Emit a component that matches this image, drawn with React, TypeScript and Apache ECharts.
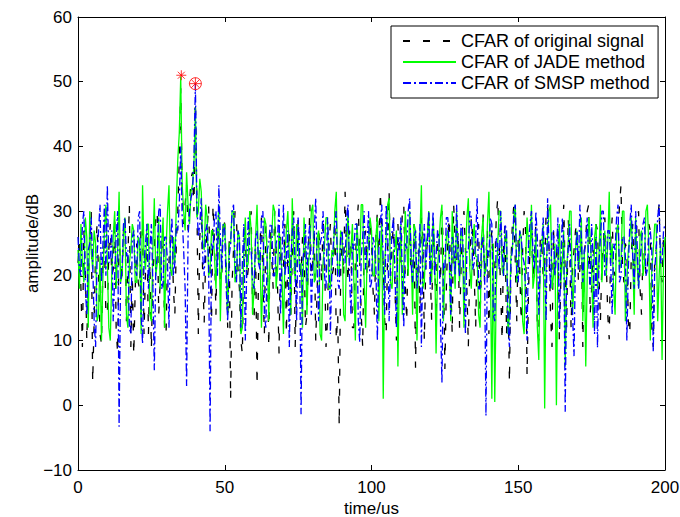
import React, { useEffect, useRef } from "react";
import * as echarts from "echarts";

// sampling step of the CFAR output, in microseconds (time axis 0..200 us)
const STEP_US = 0.5;

const originalCfar: number[] = [
  22, 25, 18, 9, 27, 21, 10, 19, 25, 30, 3.5, 13, 24, 28, 20, 11, 9.5, 22, 26, 14,
  14, 24, 28, 20, 21, 29, 12, 8, 26, 22, 19, 27, 29, 13, 23, 31, 9, 20, 7.7, 18,
  25, 19, 18, 28, 28, 11, 21, 26, 11, 22, 8.7, 20, 24, 29, 30, 14, 19, 24, 26, 12,
  10.8, 23, 22, 27, 27, 18, 14, 25, 30, 38, 49, 33, 28, 31, 34, 27, 31, 35, 36, 30,
  47, 32, 11, 26, 30, 20, 12.8, 23, 27, 31, 21, 13, 31, 25, 14, 28, 25, 19, 20, 29,
  28, 22, 12, 26, 0.9, 19, 24, 30, 29, 21, 18, 10, 7.9, 24, 26, 19, 21, 28, 30, 14,
  13, 25, 3, 20, 25, 29, 19, 11, 28, 23, 9, 27, 23, 18, 30, 24, 18, 8, 26, 21,
  21, 28, 11, 24, 27, 14, 23, 30, 9, 19, 29, 22, 20, 26, 25, 12, 14, 23, 31, 20,
  22, 27, 10, 18, 27, 24, 19, 29, 24, 9, 13, 25, 28, 20, 21, 30, 10, 14, -3.2, 21,
  26, 20, 33, 24, 19, 27, 24, 12, 12, 22, 28, 31, 22, 14, 9, 25, 27, 20, 20, 29,
  25, 18, 14, 26, 30, 22, 33, 27, 21, 13, 11, 24, 33, 20, 24, 29, 18, 10, 28, 23,
  22, 30, 31, 19, 13, 25, 26, 20, 19, 28, 5.8, 21, 24, 14, 29, 26, 10, 22, 25, 30,
  21, 13, 28, 23, 14, 27, 23, 19, 30, 24, 5.6, 18, 26, 29, 19, 11, 31, 25, 22, 27,
  12, 21, 27, 30, 24, 18, 9, 23, 29, 26, 20, 12, 25, 28, 14, 22, 30, 19, 23, 27,
  11, 24, 27, 20, 21, 29, 32, 25, 18, 10, 25, 28, 11, 19, 3.5, 22, 28, 31, 22, 13,
  26, 21, 13, 24, 30, 27, 4.6, 18, 24, 29, 19, 23, 28, 12, 10, 26, 25, 20, 21, 30,
  31, 24, 14, 9, 27, 22, 22, 28, 10, 19, 26, 31, 20, 12, 29, 25, 12, 21, 24, 27,
  28, 19, 21, 26, 9, 23, 26, 30, 31, 14, 18, 24, 23, 28, 27, 20, 13, 22, 25, 29,
  22, 14, 10.2, 25, 29, 21, 20, 27, 26, 31, 34, 22, 19, 25, 24, 13, 11, 23, 28, 20,
  23, 29, 30, 18, 14, 24, 25, 20, 21, 28, 27, 12, 9, 23, 24, 29, 31, 21, 19, 26,
  25,
];

const jadeCfar: number[] = [
  24, 18, 28, 22, 19, 29, 26, 12, 30, 24, 21, 27, 25, 13, 14, 23, 10, 20, 27, 31,
  22, 12, 10, 20, 26, 30, 18, 24, 33, 19, 20, 26, 29, 14, 12, 22, 24, 28, 27, 19,
  19, 26, 25, 11, 34, 23, 21, 28, 28, 14, 13, 24, 32, 20, 22, 29, 18, 25, 29, 12,
  24, 30, 34, 21, 20, 26, 22, 31, 38, 42, 50.8, 34, 30, 27, 36, 31, 28, 33, 34, 37,
  46, 29, 30, 35, 33, 25, 24, 31, 29, 20, 21, 27, 27, 23, 18, 26, 31, 13, 23, 28,
  28, 21, 14, 25, 25, 30, 30, 19, 20, 27, 26, 11, 12, 24, 29, 21, 22, 30, 27, 14,
  18, 26, 31, 22, 24, 12, 20, 29, 28, 23, 13, 25, 26, 31, 30, 18, 21, 27, 25, 20,
  11, 23, 27, 30, 23, 14, 32, 24, 19, 28, 26, 21, 22, 12, 29, 25, 14, 22, 24, 30,
  31, 19, 20, 26, 27, 11, 10, 22, 25, 29, 29, 18, 18, 24, 23, 30, 33, 20, 21, 27,
  26, 14, 13, 24, 30, 22, 24, 28, 19, 10, 28, 25, 22, 31, 31, 19, 12, 23, 25, 29,
  27, 20, 20, 26, 29, 13, 23, 28, 1, 22, 26, 31, 32, 19, 18, 24, 24, 27, 6, 21,
  28, 14, 21, 30, 25, 20, 30, 24, 14, 28, 27, 10, 22, 26, 34, 18, 19, 25, 26, 30,
  23, 19, 29, 24, 8, 21, 25, 29, 31, 13, 20, 26, 27, 22, 13, 30, 24, 18, 30, 23,
  19, 27, 26, 12, 22, 29, 32, 21, 18, 25, 28, 23, 23, 14, 12, 26, 29, 20, 21, 28,
  33, 22, 1, 25, 0.5, 18, 25, 30, 30, 21, 20, 26, 27, 11, 14, 23, 24, 29, 31, 19,
  21, 27, 26, 13, 11, 22, 29, 25, 23, 31, 18, 20, 27, 12, 7, 24, 24, 28, -0.5, 21,
  26, 30, 31, 18, 20, 25, 0, 22, 28, 19, 22, 27, 6, 21, 25, 30, 30, 14, 19, 24,
  27, 21, 23, 29, 13, 24, 6, 20, 29, 26, 21, 12, 26, 28, 18, 23, 31, 19, 24, 27,
  20, 25, 33, 22, 25, 18, 14, 27, 28, 21, 22, 30, 30, 13, 19, 24, 26, 29, 23, 14,
  29, 22, 18, 26, 27, 20, 22, 30, 31, 24, 10, 21, 24, 28, 28, 13, 20, 25, 7, 22,
  26,
];

const smspCfar: number[] = [
  26, 21, 20, 28, 30, 18, 14, 24, 25, 29, 22, 13, 9, 23, 27, 31, 19, 25, 31, 20,
  34, 22, 23, 27, 13, 20, 26, 30, -3.3, 19, 21, 28, 29, 23, 24, 12, 11, 26, 27, 21,
  20, 29, 30, 14, 9.5, 22, 25, 28, 18, 24, 28, 19, 5.4, 21, 23, 30, 31, 18, 19, 26,
  26, 22, 12, 25, 29, 20, 22, 28, 27, 31, 40, 29, 24, 18, 3, 26, 30, 32, 33, 38,
  49.7, 31, 26, 28, 32, 23, 20, 27, 28, 22, -4, 25, 24, 29, 30, 20, 34, 26, 21, 28,
  27, 18, 13, 23, 25, 30, 31, 22, 19, 27, 26, 12, 22, 28, 10, 21, 29, 24, 24, 19,
  18, 26, 27, 22, 21, 29, 30, 14, 12, 24, 25, 28, 28, 20, 20, 25, 26, 31, 14, 23,
  31, 20, 23, 27, 9, 22, 27, 29, 21, 13, 29, 24, -1.4, 22, 24, 28, 19, 26, 28, 14,
  22, 27, 32, 21, 13, 25, 26, 30, 20, 18, 29, 24, 11, 21, 25, 28, 30, 19, 18, 26,
  27, 22, 22, 29, 31, 20, 14, 25, 24, 28, 28, 13, 9.7, 23, 26, 30, 21, 25, 30, 18,
  19, 26, 25, 21, 10, 24, 28, 31, 22, 14, 31, 27, 13, 22, 27, 29, 20, 12, 26, 24,
  29, 20, 12, 25, 24, 30, 32, 22, 19, 26, 27, 18, 22, 28, 9, 23, 28, 21, 25, 30,
  18, 25, 30, 20, 23, 27, 26, 13, 3.5, 22, 21, 29, 29, 24, 14, 26, 25, 20, 31, 23,
  20, 28, 27, 19, 11, 24, 24, 30, 29, 21, 22, 26, 32, 18, 18, 25, 26, 22, -1.6, 24,
  23, 29, 28, 14, 13, 26, 25, 21, 30, 24, 20, 28, 27, 12, 9, 22, 24, 30, 31, 20,
  19, 27, 26, 23, 22, 18, 10, 25, 28, 30, 24, 21, 30, 26, 14, 22, 25, 29, 21, 13,
  32, 24, 18, 27, 27, 20, 23, 29, 12, 22, 29, 25, -1, 21, 24, 28, 20, 14, 7.6, 23,
  27, 21, 31, 26, 19, 24, 25, 29, 22, 18, 28, 23, 11, 26, 8.9, 22, 26, 30, 30, 20,
  21, 27, 27, 22, 14, 25, 24, 29, 31, 19, 20, 26, 26, 23, 10, 21, 28, 31, 23, 18,
  30, 25, 18, 22, 25, 28, 29, 20, 21, 26, 27, 24, 8.2, 21, 24, 29, 31, 22, 22, 27,
  28,
];

// detected targets [time, amplitude]
const jadeDetection: number[][] = [[35.2, 51.0]];
const smspDetection: number[][] = [[40.0, 49.7]];

const seriesNames = ["CFAR of original signal", "CFAR of JADE method", "CFAR of SMSP method"];
const xTicks = { min: 0, max: 200, interval: 50 };
const yTicks = { min: -10, max: 60, interval: 10 };

const FONT = "'Liberation Sans', Arial, Helvetica, sans-serif";

const asteriskPath =
  "path://M0,-6L0,6M-6,0L6,0M-4.2,-4.2L4.2,4.2M-4.2,4.2L4.2,-4.2";
const circleStarPath =
  "path://M6,0A6,6,0,1,1,-6,0A6,6,0,1,1,6,0ZM0,-6L0,6M-6,0L6,0M-4.2,-4.2L4.2,4.2M-4.2,4.2L4.2,-4.2";

const toPairs = (arr: number[]) => arr.map((v, i) => [i * STEP_US, v]);
const fmt = (v: number) => String(v).replace("-", "\u2212");

export default function App() {
  const ref = useRef<HTMLDivElement>(null);
  useEffect(() => {
    if (!ref.current) return;
    const chart = echarts.init(ref.current, undefined, { renderer: "svg" });
    const axisCommon = {
      axisLine: { show: true, onZero: false, lineStyle: { color: "#000", width: 1 } },
      axisTick: { show: true, inside: true, length: 5, lineStyle: { color: "#000" } },
      splitLine: { show: false },
    };
    chart.setOption({
      animation: false,
      backgroundColor: "#fff",
      textStyle: { fontFamily: FONT },
      grid: {
        left: 78,
        top: 17,
        width: 587,
        height: 453,
        containLabel: false,
        outerBoundsMode: "none",
      },
      legend: {
        orient: "vertical",
        left: 391,
        top: 26,
        padding: [6, 8, 6, 11],
        itemGap: 3,
        itemWidth: 53,
        itemHeight: 14,
        borderColor: "#000",
        borderWidth: 1,
        borderRadius: 0,
        backgroundColor: "#fff",
        itemStyle: { opacity: 0 },
        textStyle: { fontSize: 18, color: "#000", fontFamily: FONT },
        data: seriesNames,
      },
      xAxis: [
        {
          type: "value",
          ...xTicks,
          ...axisCommon,
          name: "time/us",
          nameLocation: "middle",
          nameGap: 30,
          nameMoveOverlap: false,
          nameTextStyle: { fontSize: 17, color: "#000", fontFamily: FONT },
          axisLabel: { fontSize: 17, color: "#000", margin: 9, fontFamily: FONT, formatter: fmt },
        },
        {
          type: "value",
          position: "top",
          ...xTicks,
          ...axisCommon,
          axisLabel: { show: false },
        },
      ],
      yAxis: [
        {
          type: "value",
          ...yTicks,
          ...axisCommon,
          name: "amplitude/dB",
          nameLocation: "middle",
          nameGap: 37,
          nameMoveOverlap: false,
          nameTextStyle: { fontSize: 17, color: "#000", fontFamily: FONT },
          axisLabel: { fontSize: 17, color: "#000", margin: 6, fontFamily: FONT, formatter: fmt },
        },
        {
          type: "value",
          position: "right",
          ...yTicks,
          ...axisCommon,
          axisLabel: { show: false },
        },
      ],
      series: [
        {
          name: seriesNames[0],
          type: "line",
          data: toPairs(originalCfar),
          symbol: "none",
          lineStyle: { color: "#000", width: 1.3, type: [7, 13] },
          itemStyle: { color: "#000" },
          z: 2,
        },
        {
          name: seriesNames[1],
          type: "line",
          data: toPairs(jadeCfar),
          symbol: "none",
          lineStyle: { color: "#00ff00", width: 1.3 },
          itemStyle: { color: "#00ff00" },
          z: 3,
        },
        {
          name: seriesNames[2],
          type: "line",
          data: toPairs(smspCfar),
          symbol: "none",
          lineStyle: { color: "#0000ff", width: 1.3, type: [8, 3, 2, 3] },
          itemStyle: { color: "#0000ff" },
          z: 4,
        },
        {
          name: "jade-detection",
          type: "scatter",
          data: jadeDetection,
          symbol: asteriskPath,
          symbolSize: 10,
          itemStyle: { color: "transparent", borderColor: "#ff0000", borderWidth: 1 },
          z: 6,
        },
        {
          name: "smsp-detection",
          type: "scatter",
          data: smspDetection,
          symbol: circleStarPath,
          symbolSize: 12,
          itemStyle: { color: "transparent", borderColor: "#ff0000", borderWidth: 1 },
          z: 6,
        },
      ],
    });
    return () => chart.dispose();
  }, []);
  return (
    <div
      ref={ref}
      style={{ position: "fixed", left: 0, top: 0, width: 680, height: 517, background: "#fff" }}
    />
  );
}
